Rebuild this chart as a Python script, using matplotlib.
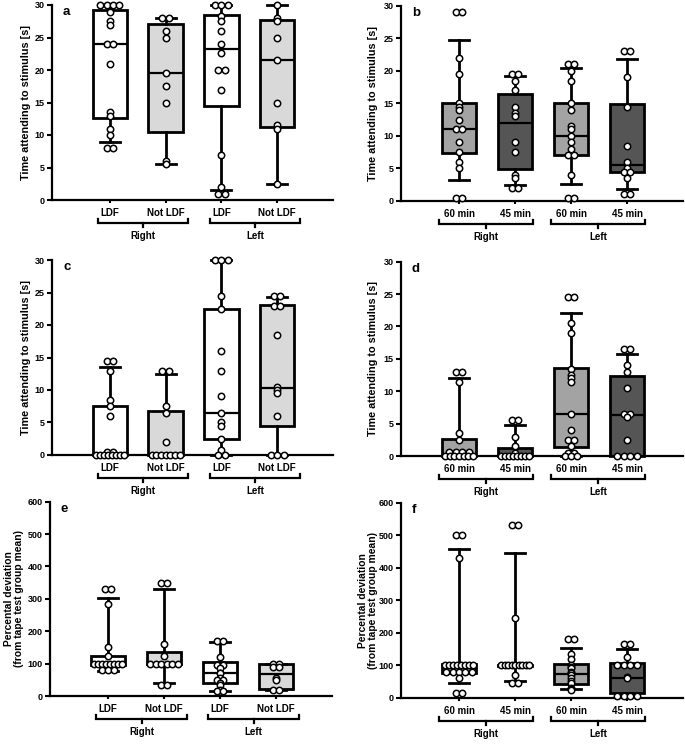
import matplotlib
matplotlib.use("Agg")
import matplotlib.pyplot as plt
from matplotlib.transforms import blended_transform_factory

plt.rcParams['font.family'] = ['Liberation Sans', 'DejaVu Sans']
plt.rcParams['font.weight'] = 'bold'

# ---------------- data ----------------
cats_side = ["LDF", "Not LDF", "LDF", "Not LDF"]
cats_time = ["60 min", "45 min", "60 min", "45 min"]
groups = ["Right", "Left"]

a_pts = [
    [30, 30, 30, 30, 29, 27.5, 27, 24, 24, 21, 13.5, 13, 11, 10, 8, 8],
    [28, 28, 26, 25, 19.5, 17.5, 15, 6, 5.5],
    [30, 30, 30, 28.3, 27.5, 26, 24, 22.6, 20, 20, 17, 7, 2, 1, 1],
    [30, 28, 27.5, 25, 21.5, 15, 11.5, 11, 2.5],
]
a_q1 = [12.6, 10.5, 14.4, 11.3]
a_med = [24.0, 19.5, 23.2, 21.5]
a_q3 = [29.3, 27.1, 28.5, 27.7]
a_lo = [9.0, 5.5, 1.5, 2.5]
a_hi = [30, 28, 30, 30]

b_pts = [
    [29, 29, 22, 19.5, 15, 14.5, 14, 12.5, 11, 11, 9, 7.5, 6, 5, 0.5, 0.5],
    [19.5, 19.5, 18.5, 17, 14.5, 13.5, 13, 9, 7.5, 4, 3.5, 2, 2],
    [21, 21, 20, 18.5, 15, 14, 11.5, 11, 10, 9, 8, 7, 7, 4, 0.5, 0.5],
    [23, 23, 19, 14.5, 8.5, 6, 5, 4.5, 4.5, 3.5, 1, 1],
]
b_q1 = [7.4, 4.9, 7.0, 4.4]
b_med = [11.0, 12.0, 10.0, 5.5]
b_q3 = [15.1, 16.4, 15.0, 14.9]
b_lo = [3.2, 2.5, 2.6, 1.8]
b_hi = [24.8, 19.2, 20.4, 21.8]

c_pts = [
    [14.5, 14.5, 13, 8.5, 7.5, 6, 0.5, 0.5, 0, 0, 0, 0, 0, 0, 0, 0],
    [13, 13, 7.5, 6.5, 2, 0, 0, 0, 0, 0, 0, 0],
    [30, 30, 30, 24.5, 22.5, 16, 13, 9, 6.5, 5, 4.5, 2.5, 0.7, 0, 0],
    [24.5, 24.5, 23, 23, 18.5, 10.5, 10, 9.5, 6, 0, 0, 0],
]
c_q1 = [0, 0, 2.4, 4.5]
c_med = [0, 0, 6.5, 10.3]
c_q3 = [7.6, 6.8, 22.5, 23.1]
c_lo = [0, 0, 0, 0]
c_hi = [13.6, 12.5, 30, 24.3]

d_pts = [
    [13, 13, 11.5, 3.5, 2.5, 0.6, 0.6, 0.6, 0.6, 0, 0, 0, 0, 0, 0, 0],
    [5.5, 5.5, 3, 1.5, 0.5, 0, 0, 0, 0, 0, 0, 0, 0],
    [24.5, 24.5, 20.5, 19, 13.5, 12.5, 12, 11.5, 6.5, 4, 2.5, 2.5, 1.5, 0.5, 0.5, 0, 0, 0],
    [16.5, 16.5, 14, 13, 10.5, 6.5, 6.5, 6, 2.5, 0, 0, 0, 0],
]
d_q1 = [0, 0, 1.4, 0]
d_med = [0, 0, 6.5, 6.3]
d_q3 = [2.6, 1.3, 13.6, 12.4]
d_lo = [0, 0, 0, 0]
d_hi = [12.1, 4.8, 22.1, 15.7]

e_pts = [
    [330, 330, 285, 150, 122, 100, 100, 100, 100, 100, 100, 100, 100, 80, 80, 80],
    [350, 350, 160, 125, 100, 100, 100, 100, 100, 100, 35, 35],
    [170, 170, 120, 97, 95, 95, 85, 72, 70, 55, 50, 50, 40, 35, 20, 15, 15],
    [100, 100, 90, 90, 55, 50, 20, 20],
]
e_q1 = [95, 100, 40, 22]
e_med = [100, 100, 72, 68]
e_q3 = [124, 135, 104, 99]
e_lo = [78, 39, 15, 18]
e_hi = [304, 330, 168, 100]

f_pts = [
    [500, 500, 430, 100, 100, 100, 100, 100, 100, 100, 100, 80, 80, 80, 80, 80, 60, 15, 15],
    [530, 530, 245, 100, 100, 100, 100, 100, 100, 100, 100, 100, 70, 45, 45],
    [180, 180, 135, 120, 100, 95, 90, 80, 75, 70, 60, 50, 45, 30, 28, 25],
    [165, 165, 125, 100, 100, 100, 100, 65, 60, 5, 5, 5, 5],
]
f_q1 = [77, 98, 41, 15]
f_med = [95, 100, 73, 62]
f_q3 = [105, 102, 104, 108]
f_lo = [44, 52, 28, 3]
f_hi = [459, 444, 152, 150]

time_label = "Time attending to stimulus [s]"
pct_label = "Percental deviation\n(from tape test group mean)"

col_side = ["#ffffff", "#d9d9d9", "#ffffff", "#d9d9d9"]
col_time = ["#a3a3a3", "#555555", "#a3a3a3", "#555555"]

# ---------------- drawing ----------------
W, H = 685, 752
fig = plt.figure(figsize=(W / 100, H / 100), dpi=100)
fig.patch.set_facecolor("white")


def add_ax(left, right, top, bottom):
    return fig.add_axes([left / W, 1 - bottom / H, (right - left) / W, (bottom - top) / H])


def swarm(vals, d=0.115, maxspan=0.5):
    out = []
    for v in sorted(set(vals), reverse=True):
        n = vals.count(v)
        step = d if n == 1 else min(d, maxspan / (n - 1))
        for k in range(n):
            out.append(((k - (n - 1) / 2) * step, v))
    return out


def draw(ax, pts, q1, med, q3, lo, hi, colors, cats, ymax, ystep, ylabel,
         ylab_px, ylab_fs, letter, br, px_w, px_h):
    pos = [1, 2, 3, 4]
    stats = [dict(q1=q1[i], med=med[i], q3=q3[i], whislo=lo[i], whishi=hi[i], fliers=[])
             for i in range(4)]
    bp = ax.bxp(stats, positions=pos, widths=0.62, patch_artist=True, showfliers=False,
                capwidths=0.36,
                boxprops=dict(linewidth=2.0, edgecolor="black"),
                medianprops=dict(linewidth=1.6, color="black"),
                whiskerprops=dict(linewidth=2.0, color="black"),
                capprops=dict(linewidth=2.0, color="black"),
                manage_ticks=False)
    for patch, c in zip(bp["boxes"], colors):
        patch.set_facecolor(c)
    for art in bp["whiskers"] + bp["caps"] + bp["medians"] + bp["boxes"]:
        art.set_clip_on(False)
    for i, vals in enumerate(pts):
        sw = swarm(vals)
        xs = [pos[i] + o for o, _ in sw]
        ys = [v for _, v in sw]
        ax.plot(xs, ys, "o", ms=4.6, mfc="white", mec="black", mew=1.1,
                zorder=5, clip_on=False, ls="none")
    ax.set_xlim(-0.036, 5.0)
    ax.set_ylim(0, ymax)
    ax.set_yticks([ystep * k for k in range(int(round(ymax / ystep)) + 1)])
    ax.set_xticks(pos)
    ax.set_xticklabels(cats, fontsize=7, fontweight="bold")
    for s in ["top", "right"]:
        ax.spines[s].set_visible(False)
    for s in ["left", "bottom"]:
        ax.spines[s].set_linewidth(1.6)
    ax.tick_params(axis="y", length=3.5, width=1.5, labelsize=6.5, pad=2)
    ax.tick_params(axis="x", length=2.5, width=1.5, labelsize=7, pad=3.5)
    for t in ax.get_yticklabels():
        t.set_fontweight("bold")
    ax.set_ylabel(ylabel, fontsize=ylab_fs, fontweight="bold", linespacing=1.0)
    ax.yaxis.set_label_coords(-ylab_px / px_w, 0.5)
    ax.text(11 / px_w, 1 - 7 / px_h, letter, transform=ax.transAxes, fontsize=9.5,
            fontweight="bold", va="center", ha="left")
    tr = blended_transform_factory(ax.transData, ax.transAxes)
    yb = -23 / px_h
    yup = -19 / px_h
    ydn = -27 / px_h
    ylab = -36 / px_h
    for (x0, x1), g in zip(br, groups):
        ax.plot([x0, x0, x1, x1], [yup, yb, yb, yup], color="black", lw=1.6,
                transform=tr, clip_on=False, solid_joinstyle="miter")
        xm = (x0 + x1) / 2
        ax.plot([xm, xm], [yb, ydn], color="black", lw=1.6, transform=tr, clip_on=False)
        ax.text(xm, ylab, g, transform=tr, ha="center", va="center", fontsize=7,
                fontweight="bold")


br_side = [(0.79, 2.41), (2.79, 4.41)]
br_time = [(0.64, 2.33), (2.64, 4.33)]

axa = add_ax(52, 333, 5, 200)
draw(axa, a_pts, a_q1, a_med, a_q3, a_lo, a_hi, col_side, cats_side, 30, 5,
     time_label, 21, 7.8, "a", br_side, 281, 195)
axb = add_ax(401, 683, 5.7, 201)
draw(axb, b_pts, b_q1, b_med, b_q3, b_lo, b_hi, col_time, cats_time, 30, 5,
     time_label, 23, 7.8, "b", br_time, 282, 195.3)
axc = add_ax(52, 333, 260, 455)
draw(axc, c_pts, c_q1, c_med, c_q3, c_lo, c_hi, col_side, cats_side, 30, 5,
     time_label, 21, 7.8, "c", br_side, 281, 195)
axd = add_ax(401, 683, 261.7, 456)
draw(axd, d_pts, d_q1, d_med, d_q3, d_lo, d_hi, col_time, cats_time, 30, 5,
     time_label, 23, 7.8, "d", br_time, 282, 194.3)
axe = add_ax(50, 332, 501.7, 696)
draw(axe, e_pts, e_q1, e_med, e_q3, e_lo, e_hi, col_side, cats_side, 600, 100,
     pct_label, 26, 7.4, "e", br_side, 282, 194.3)
axf = add_ax(401, 683, 502.7, 697.7)
draw(axf, f_pts, f_q1, f_med, f_q3, f_lo, f_hi, col_time, cats_time, 600, 100,
     pct_label, 23, 7.4, "f", br_time, 282, 195)

fig.savefig("out.png", dpi=100, facecolor="white")
